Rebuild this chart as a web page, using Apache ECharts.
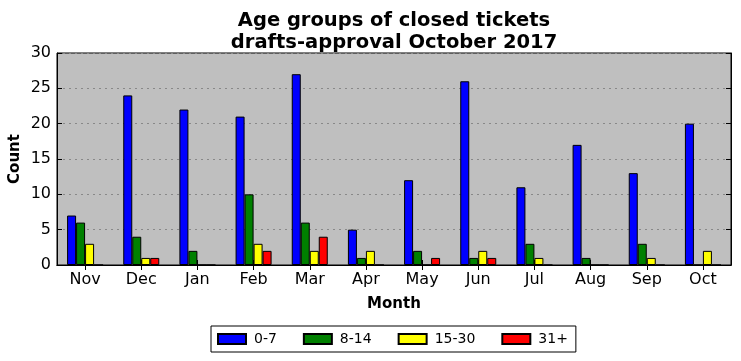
<!DOCTYPE html>
<html><head><meta charset="utf-8">
<script src="https://cdn.jsdelivr.net/npm/echarts@6/dist/echarts.min.js"></script>
<style>html,body{margin:0;padding:0;background:#fff}#c{width:741px;height:361px}</style>
</head><body><div id="c"></div>
<script>
var months = ['Nov','Dec','Jan','Feb','Mar','Apr','May','Jun','Jul','Aug','Sep','Oct'];
var g0_7 =   [7, 24, 22, 21, 27, 5, 12, 26, 11, 17, 13, 20];
var g8_14 =  [6, 4, 2, 10, 6, 1, 2, 1, 3, 1, 3, 0];
var g15_30 = [3, 1, 0, 3, 2, 2, 0, 2, 1, 0, 1, 2];
var g31 =    [0, 1, 0, 2, 4, 0, 1, 1, 0, 0, 0, 0];
var yTicks = [0, 5, 10, 15, 20, 25, 30];

var font = 'DejaVu Sans';
var chart = echarts.init(document.getElementById('c'));
function ser(name, data, color){
  return {name:name, type:'bar', data:data, barWidth:9, barGap:'0%', z:3,
    itemStyle:{color:color, borderColor:'#000', borderWidth:1}};
}
chart.setOption({
  animation:false,
  textStyle:{fontFamily:font},
  title:{text:'Age groups of closed tickets\ndrafts-approval October 2017', left:389, top:5, textAlign:'center',
    textStyle:{fontFamily:font, fontWeight:'bold', fontSize:19.5, color:'#000', lineHeight:22}},
  grid:{left:57, right:10, top:53, bottom:96, outerBoundsMode:'none', containLabel:false, show:true, backgroundColor:'#bfbfbf', borderColor:'#000', borderWidth:1},
  legend:{top:326, left:211, itemWidth:28, itemHeight:10, itemGap:26, padding:[6,8,6,6],
    borderColor:'#000', borderWidth:1, borderRadius:0, icon:'rect',
    textStyle:{fontFamily:font, fontSize:14, color:'#000', padding:[0,0,0,3]},
    data:['0-7','8-14','15-30','31+']},
  xAxis:[{type:'category', data:months, position:'bottom',
    name:'Month', nameLocation:'middle', nameGap:32, nameMoveOverlap:false, nameTextStyle:{fontFamily:font, fontWeight:'bold', fontSize:15, color:'#000'},
    axisLine:{lineStyle:{color:'#000'}}, axisTick:{show:true, inside:true, alignWithLabel:true, length:5, lineStyle:{color:'#000'}},
    axisLabel:{fontFamily:font, fontSize:16, color:'#000', margin:7}},
    {type:'category', data:months, position:'top', axisLine:{show:true, lineStyle:{color:'#000'}},
     axisTick:{show:true, inside:true, alignWithLabel:true, length:5, lineStyle:{color:'#000'}}, axisLabel:{show:false}}],
  yAxis:[{type:'value', min:0, max:30, interval:5,
    name:'Count', nameLocation:'middle', nameGap:34, nameMoveOverlap:false, nameTextStyle:{fontFamily:font, fontWeight:'bold', fontSize:15, color:'#000'},
    axisLine:{show:true, lineStyle:{color:'#000'}}, axisTick:{show:true, inside:true, length:5, lineStyle:{color:'#000'}},
    axisLabel:{fontFamily:font, fontSize:16, color:'#000', margin:6},
    splitLine:{show:true, lineStyle:{color:'#888', type:[2,4], width:1}}},
    {type:'value', min:0, max:30, interval:5, position:'right',
    axisLine:{show:true, lineStyle:{color:'#000'}}, axisTick:{show:true, inside:true, length:5, lineStyle:{color:'#000'}},
    axisLabel:{show:false}, splitLine:{show:false}}],
  series:[ser('0-7', g0_7, '#0000ff'), ser('8-14', g8_14, '#008000'), ser('15-30', g15_30, '#ffff00'), ser('31+', g31, '#ff0000')]
});
</script></body></html>
